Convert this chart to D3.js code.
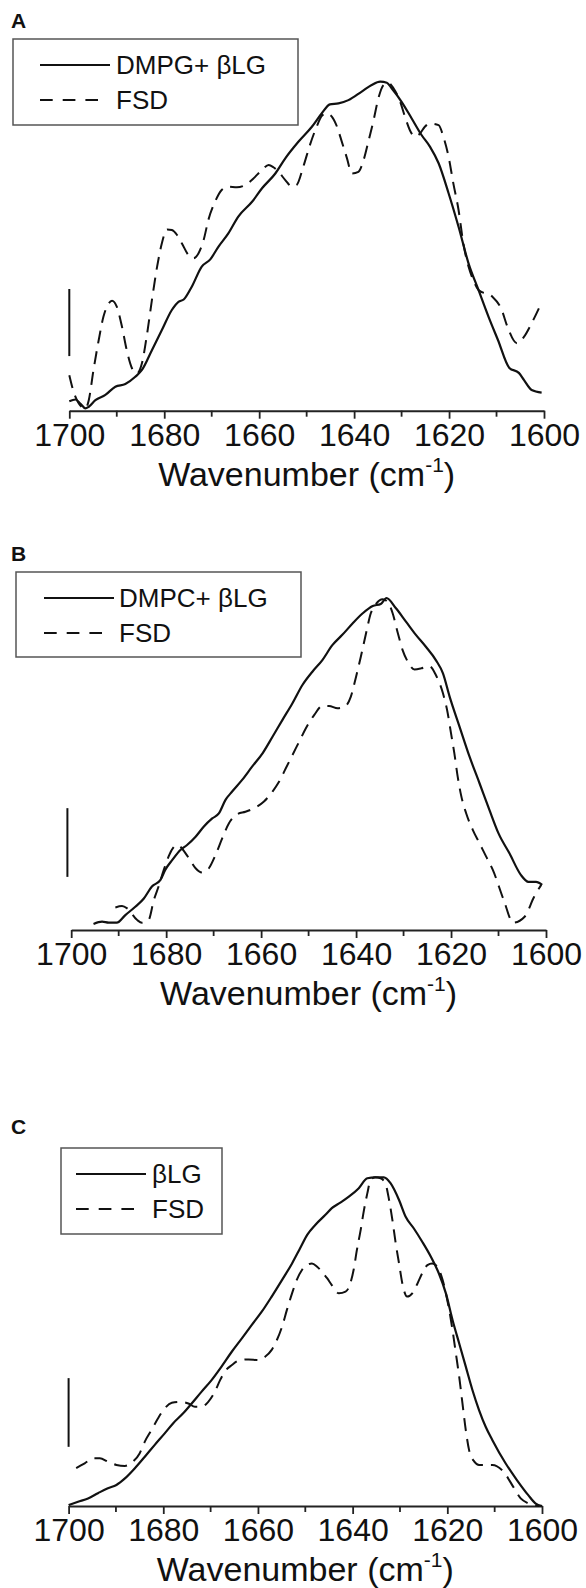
<!DOCTYPE html>
<html>
<head>
<meta charset="utf-8">
<script src="https://cdn.jsdelivr.net/npm/d3@7"></script>
<style>
  body { margin: 0; background: #fff; }
  text { font-family: "Liberation Sans", Arial, sans-serif; fill: #111; }
</style>
</head>
<body>
<div id="chart"></div>
<script>
// wavenumber (cm-1), absorbance in arbitrary units (peak = 100)
const majorTicks = [1700, 1680, 1660, 1640, 1620, 1600];
const minorTicks = [1690, 1670, 1650, 1630, 1610];
const axisTitle = "Wavenumber (cm";
const axisTitleSup = "-1";

const legendA = ["DMPG+ \u03B2LG", "FSD"];
const legendB = ["DMPC+ \u03B2LG", "FSD"];
const legendC = ["\u03B2LG", "FSD"];

const solidA = [[1700,2.9],[1698.7,3.4],[1697.7,2.2],[1696.6,0.7],[1695.9,1.2],[1694.5,3.2],[1692.4,4.8],[1690.3,7.3],[1688.2,8.1],[1686.1,10.3],[1684.7,12.4],[1682.6,18.4],[1680.5,24.5],[1678.4,30.6],[1677.0,33.1],[1675.9,33.8],[1674.2,37.7],[1672.1,43.8],[1670.3,46.0],[1668.6,49.8],[1666.5,53.9],[1664.4,59.0],[1661.5,63.5],[1659.4,67.6],[1656.6,72.1],[1654.5,76.7],[1651.7,81.8],[1648.9,86.3],[1646.8,90.4],[1645.1,93.1],[1643.3,93.4],[1641.2,94.4],[1638.4,97.0],[1636.3,99.0],[1634.5,100],[1633.1,99.7],[1632.1,98.0],[1630.0,93.9],[1627.9,88.9],[1625.8,83.8],[1624.0,80.2],[1622.2,75.2],[1620.1,66.1],[1618.0,55.9],[1615.9,44.8],[1613.8,36.7],[1611.7,28.6],[1609.7,21.5],[1607.3,13.0],[1605.3,11.5],[1604.2,9.3],[1602.6,6.3],[1600.5,5.5]];
const fsdA = [[1700,10.8],[1699.1,5.8],[1698.0,2.2],[1696.6,0.7],[1695.9,3.2],[1694.9,12.4],[1693.8,21.5],[1692.8,28.6],[1691.7,32.6],[1691.0,33.4],[1690.0,31.6],[1688.9,25.5],[1687.9,18.4],[1686.8,12.9],[1685.8,11.3],[1684.7,14.4],[1683.6,23.5],[1682.6,33.6],[1681.5,43.8],[1680.5,50.9],[1679.4,55.1],[1678.4,54.9],[1677.3,53.4],[1676.3,50.9],[1674.9,47.3],[1673.8,46.3],[1672.8,47.8],[1671.7,51.9],[1670.7,58.0],[1669.3,63.5],[1667.9,67.1],[1666.5,68.1],[1664.7,67.9],[1662.9,68.6],[1661.2,70.6],[1659.4,73.2],[1658.0,74.7],[1657.0,74.0],[1655.9,72.6],[1654.5,70.1],[1653.1,68.1],[1652.1,68.6],[1650.7,74.2],[1649.3,80.8],[1647.9,86.3],[1646.8,89.6],[1645.8,90.4],[1644.7,89.4],[1643.6,86.3],[1642.6,81.8],[1641.5,76.7],[1640.5,72.1],[1639.1,72.6],[1638.0,76.2],[1637.0,81.8],[1635.9,88.3],[1634.9,94.9],[1633.8,99.0],[1632.8,99.7],[1631.7,98.0],[1630.3,93.9],[1629.3,89.4],[1627.9,84.3],[1627.2,83.3],[1626.1,84.3],[1625.1,86.3],[1624.0,87.3],[1622.2,86.8],[1621.2,83.3],[1620.1,77.2],[1619.1,69.1],[1618.0,61.0],[1617.0,50.9],[1615.9,43.8],[1614.9,39.7],[1613.8,36.7],[1610.9,34.7],[1608.9,30.6],[1607.7,25.5],[1605.7,20.5],[1604.2,22.5],[1602.6,26.6],[1600.6,32.6]];

const solidB = [[1695.3,1.8],[1693.5,2.5],[1692.1,2.2],[1690.4,2.2],[1688.6,4.5],[1686.5,7.0],[1684.7,9.5],[1683.0,13.1],[1681.2,15.1],[1680.2,18.1],[1678.7,21.1],[1677.0,24.1],[1675.6,25.6],[1673.8,28.1],[1672.1,31.1],[1670.3,33.6],[1668.9,35.1],[1667.5,39.2],[1666.1,41.7],[1664.0,45.2],[1661.9,49.2],[1659.7,53.2],[1657.6,58.2],[1655.5,63.3],[1653.4,68.3],[1651.3,73.8],[1649.2,77.8],[1647.1,81.3],[1645.0,85.8],[1642.9,88.9],[1640.7,92.4],[1638.6,95.4],[1636.5,97.6],[1634.8,98.2],[1633.6,100],[1631.6,96.9],[1629.5,92.9],[1627.4,88.9],[1625.3,85.3],[1623.2,81.3],[1621.7,77.3],[1620.3,70.3],[1618.2,61.2],[1616.1,52.2],[1614.0,44.2],[1611.9,36.1],[1610.0,29.1],[1607.7,23.1],[1605.3,16.6],[1603.7,14.5],[1602.1,14.5],[1600.8,13.6]];
const fsdB = [[1690.7,6.8],[1689.3,7.2],[1688.2,6.5],[1686.1,3.0],[1685.1,2.2],[1683.7,3.0],[1682.6,9.0],[1681.6,13.1],[1680.5,18.1],[1679.5,22.1],[1678.6,24.6],[1677.7,25.6],[1675.2,21.6],[1673.8,18.6],[1672.4,17.3],[1671.0,18.6],[1669.6,22.6],[1668.2,27.6],[1666.8,32.1],[1665.0,34.9],[1663.3,35.6],[1661.2,36.9],[1659.4,38.7],[1657.6,41.7],[1656.2,44.7],[1654.8,48.7],[1653.4,52.7],[1652.0,56.7],[1650.6,60.7],[1648.8,64.8],[1647.1,67.5],[1645.7,67.5],[1643.9,66.8],[1642.2,67.5],[1641.1,70.3],[1640.0,76.3],[1639.0,82.3],[1637.9,89.4],[1636.9,95.4],[1635.8,98.2],[1634.4,99.6],[1633.4,98.9],[1632.3,95.4],[1631.2,89.4],[1630.2,84.3],[1629.1,80.8],[1627.7,78.5],[1626.3,78.8],[1624.6,79.5],[1623.2,76.8],[1621.7,71.3],[1620.7,65.3],[1620.0,59.2],[1619.3,53.2],[1618.6,46.2],[1617.9,40.7],[1616.8,35.1],[1615.4,30.1],[1614.0,26.1],[1612.6,22.1],[1611.2,18.1],[1608.9,9.0],[1606.9,2.2],[1604.5,4.0],[1602.5,10.0],[1601.0,13.6]];

const solidC = [[1700,0.3],[1698.0,1.3],[1695.9,2.3],[1693.8,3.9],[1691.7,5.4],[1689.9,6.4],[1688.1,8.4],[1686.0,11.5],[1683.9,15.0],[1681.8,18.6],[1679.7,22.1],[1677.9,25.2],[1675.8,28.2],[1674.0,31.2],[1671.9,34.8],[1669.8,38.3],[1667.7,42.4],[1665.5,47.0],[1663.4,51.0],[1661.3,55.1],[1659.2,59.1],[1657.1,63.7],[1654.9,68.8],[1652.8,73.8],[1651.1,78.4],[1649.6,82.5],[1647.9,85.5],[1645.8,88.5],[1644.4,90.6],[1642.6,92.3],[1640.8,94.1],[1638.7,96.7],[1636.9,99.7],[1635.2,100],[1633.4,100],[1632.0,98.2],[1630.2,93.1],[1628.8,88.0],[1627.1,84.5],[1625.3,80.4],[1623.5,75.9],[1621.8,70.8],[1620.3,64.7],[1618.9,56.6],[1617.5,49.5],[1616.1,42.4],[1614.7,35.3],[1613.3,29.2],[1611.9,24.1],[1610.5,20.1],[1607.7,13.0],[1605.3,7.9],[1602.9,3.3],[1601.4,0.8],[1600,0]];
const fsdC = [[1698.4,11.5],[1696.6,13.0],[1694.8,14.5],[1693.4,14.5],[1691.7,13.5],[1689.9,12.5],[1688.1,12.2],[1686.4,13.5],[1685.0,16.0],[1683.9,19.6],[1682.5,23.1],[1681.1,26.7],[1679.7,29.7],[1678.2,31.4],[1676.5,31.7],[1674.7,31.2],[1673.3,30.2],[1671.9,30.2],[1670.5,31.7],[1669.1,34.8],[1668.0,38.3],[1667.0,40.9],[1665.5,42.9],[1664.1,44.2],[1662.0,44.6],[1659.9,44.4],[1658.5,45.4],[1657.1,47.5],[1656.0,50.5],[1654.9,54.6],[1653.9,59.6],[1652.8,64.7],[1651.8,68.8],[1650.7,71.8],[1649.6,73.3],[1648.6,73.8],[1647.5,72.8],[1646.5,71.3],[1645.4,69.3],[1644.4,67.2],[1642.9,64.7],[1641.5,65.2],[1640.5,67.7],[1639.8,71.8],[1639.1,77.9],[1638.3,84.0],[1637.6,90.1],[1636.9,95.1],[1636.2,99.2],[1635.2,100],[1634.1,99.7],[1633.1,98.2],[1632.3,93.1],[1631.6,87.0],[1630.9,79.9],[1630.2,73.8],[1629.5,67.7],[1628.5,63.7],[1627.4,64.7],[1626.3,67.7],[1625.3,70.8],[1624.2,73.3],[1623.2,73.8],[1622.1,72.8],[1621.0,68.8],[1620.3,64.7],[1619.6,59.6],[1618.9,53.5],[1618.2,46.5],[1617.5,39.4],[1616.8,31.2],[1616.1,23.1],[1615.4,17.0],[1614.3,13.5],[1613.3,12.5],[1611.9,12.5],[1610.5,12.5],[1608.1,10.4],[1606.1,5.9],[1604.5,2.3],[1602.9,0.8],[1600.6,0]];

// absorbance scale bars [from, to]
const scaleBarA = [16.6, 37.0];
const scaleBarB = [16.0, 36.7];
const scaleBarC = [18.0, 38.9];

const width = 586, height = 1588;
const svg = d3.select("#chart").append("svg")
  .attr("width", width)
  .attr("height", height)
  .style("display", "block");

const panels = [
  {tag: "A", tagY: 28, left: 69.3, right: 544, axisY: 410.7, top: 81.7,
   solid: solidA, fsd: fsdA, names: legendA, bar: scaleBarA, barWn: 1700,
   box: {x: 13, y: 39, w: 285, h: 86, lx: 40, l1: 70, l2: 58, tx: 116}},
  {tag: "B", tagY: 561, left: 71.2, right: 546, axisY: 930, top: 598,
   solid: solidB, fsd: fsdB, names: legendB, bar: scaleBarB, barWn: 1700.8,
   box: {x: 16, y: 572, w: 285, h: 85, lx: 44, l1: 70, l2: 58, tx: 119}},
  {tag: "C", tagY: 1134, left: 68.6, right: 542, axisY: 1506, top: 1177.3,
   solid: solidC, fsd: fsdC, names: legendC, bar: scaleBarC, barWn: 1700,
   box: {x: 61, y: 1148, w: 161, h: 86, lx: 76, l1: 70, l2: 58, tx: 152}}
];

panels.forEach(function(p) {
  const g = svg.append("g");

  const x = d3.scaleLinear().domain([1700, 1600]).range([p.left, p.right]);
  const y = d3.scaleLinear().domain([0, 100]).range([p.axisY, p.top]);

  // panel letter
  g.append("text")
    .attr("x", 11).attr("y", p.tagY)
    .style("font-size", "21px").style("font-weight", "bold")
    .text(p.tag);

  // x axis
  const ax = g.append("g").attr("transform", `translate(0,${p.axisY})`);
  ax.call(d3.axisBottom(x).tickValues(majorTicks).tickSize(8).tickSizeOuter(0).tickFormat(d3.format("d")))
  ax.select(".domain").attr("stroke", "#222").attr("stroke-width", 2);
  ax.selectAll(".tick line").attr("stroke", "#222").attr("stroke-width", 1.8);
  ax.selectAll(".tick text")
    .attr("y", 35).attr("dy", 0)
    .style("font-family", "'Liberation Sans', Arial, sans-serif")
    .style("font-size", "32px").attr("fill", "#111");
  ax.selectAll(".minor")
    .data(minorTicks).enter().append("line")
    .attr("x1", d => x(d)).attr("x2", d => x(d))
    .attr("y1", 0).attr("y2", 6)
    .attr("stroke", "#222").attr("stroke-width", 1.8);

  // axis title with superscript
  const t = g.append("text")
    .attr("x", (p.left + p.right) / 2).attr("y", p.axisY + 75)
    .attr("text-anchor", "middle")
    .style("font-size", "34px");
  t.append("tspan").text(axisTitle);
  t.append("tspan").attr("dy", -14).style("font-size", "21px").text(axisTitleSup);
  t.append("tspan").attr("dy", 14).text(")");

  // scale bar
  g.append("line")
    .attr("x1", x(p.barWn)).attr("x2", x(p.barWn))
    .attr("y1", y(p.bar[0])).attr("y2", y(p.bar[1]))
    .attr("stroke", "#111").attr("stroke-width", 2);

  const line = d3.line()
    .x(d => x(d[0]))
    .y(d => y(d[1]))
    .curve(d3.curveMonotoneX);

  g.append("path").datum(p.fsd)
    .attr("fill", "none").attr("stroke", "#111").attr("stroke-width", 2)
    .attr("stroke-dasharray", "13,8")
    .attr("d", line);

  g.append("path").datum(p.solid)
    .attr("fill", "none").attr("stroke", "#111").attr("stroke-width", 2.2)
    .attr("d", line);

  // legend
  const b = p.box;
  g.append("rect")
    .attr("x", b.x).attr("y", b.y).attr("width", b.w).attr("height", b.h)
    .attr("fill", "none").attr("stroke", "#555").attr("stroke-width", 1.5);
  g.append("line")
    .attr("x1", b.lx).attr("x2", b.lx + b.l1)
    .attr("y1", b.y + 26).attr("y2", b.y + 26)
    .attr("stroke", "#111").attr("stroke-width", 2);
  g.append("line")
    .attr("x1", b.lx).attr("x2", b.lx + b.l2)
    .attr("y1", b.y + 61).attr("y2", b.y + 61)
    .attr("stroke", "#111").attr("stroke-width", 2)
    .attr("stroke-dasharray", "12.7,10");
  g.append("text")
    .attr("x", b.tx).attr("y", b.y + 35)
    .style("font-size", "26px")
    .text(p.names[0]);
  g.append("text")
    .attr("x", b.tx).attr("y", b.y + 70)
    .style("font-size", "26px")
    .text(p.names[1]);
});
</script>
</body>
</html>
